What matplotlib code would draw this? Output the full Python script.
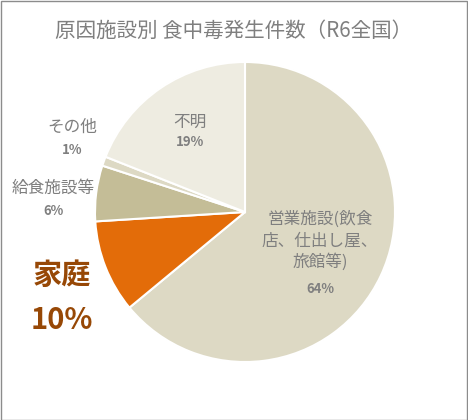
import matplotlib
matplotlib.use("Agg")
import matplotlib.pyplot as plt
from matplotlib.patches import Rectangle

plt.rcParams['font.family'] = ['Noto Sans CJK JP', 'DejaVu Sans']

title = "原因施設別 食中毒発生件数（R6全国）"
categories = ["営業施設(飲食\n店、仕出し屋、\n旅館等)", "家庭", "給食施設等", "その他", "不明"]
values = [64, 10, 6, 1, 19]
colors = ["#DDD9C4", "#E36C09", "#C4BD97", "#DDD9C4", "#EEECE1"]

W, H = 468, 420
fig = plt.figure(figsize=(W/100, H/100), dpi=100)
fig.patch.set_facecolor("white")
fig.add_artist(Rectangle((0.5/W, 0.5/H), 1-1.5/W, 1-1.5/H, transform=fig.transFigure,
                         fill=False, edgecolor="#8C8C8C", linewidth=1.0))

cx, cy, r = 245, 420-212, 150
ax = fig.add_axes([(cx-r)/W, (cy-r)/H, 2*r/W, 2*r/H])
ax.pie(values, colors=colors, startangle=90, counterclock=False,
       wedgeprops=dict(edgecolor="white", linewidth=1.5))
ax.set_xlim(-1, 1); ax.set_ylim(-1, 1)
ax.axis("off")

fig.text(0.5, 1-31/H, title, ha="center", va="center", fontsize=14.8, color="#7F7F7F")

def ptxt(x, y, s, **kw):
    fig.text(x/W, 1-y/H, s, ha="center", va="center", **kw)

label_color = "#7F7F7F"
# layout positions (pixels) for labels
pos = [(320, 241, 289), (62, 275, 320), (53, 188, 211), (72, 127, 150), (190, 122, 142)]
for i, (cat, v) in enumerate(zip(categories, values)):
    x, yl, yp = pos[i]
    if i == 1:
        ptxt(x, yl, cat, fontsize=21, color="#974806", fontweight="bold")
        ptxt(x, yp, f"{v}%", fontsize=21, color="#974806", fontweight="bold")
    else:
        ptxt(x, yl, cat, fontsize=12, color=label_color, linespacing=1.3)
        ptxt(x, yp, f"{v}%", fontsize=9.5, color=label_color, fontweight="bold")

fig.savefig("out.png", dpi=100)
